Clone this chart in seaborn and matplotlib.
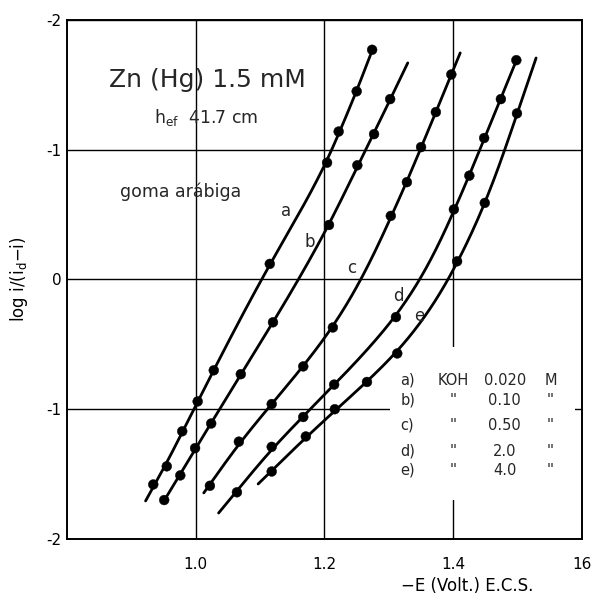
import numpy as np
import pandas as pd
import matplotlib
matplotlib.use("Agg")
import matplotlib.pyplot as plt
import seaborn as sns
from matplotlib.patches import Rectangle

# Measured points: log i/(id - i) against -E (V vs. SCE), one series per KOH concentration
curve_names = ["a", "b", "c", "d", "e"]

a_x = [0.934, 0.955, 0.979, 1.003, 1.028, 1.115, 1.204, 1.222, 1.250, 1.274]
a_y = [-1.58, -1.44, -1.17, -0.94, -0.70, 0.12, 0.90, 1.14, 1.45, 1.77]

b_x = [0.951, 0.976, 0.999, 1.024, 1.070, 1.120, 1.207, 1.251, 1.277, 1.302]
b_y = [-1.70, -1.51, -1.30, -1.11, -0.73, -0.33, 0.42, 0.88, 1.12, 1.39]

c_x = [1.022, 1.067, 1.118, 1.167, 1.213, 1.303, 1.328, 1.350, 1.373, 1.397]
c_y = [-1.59, -1.25, -0.96, -0.67, -0.37, 0.49, 0.75, 1.02, 1.29, 1.58]

d_x = [1.064, 1.118, 1.167, 1.215, 1.311, 1.401, 1.425, 1.448, 1.474, 1.498]
d_y = [-1.64, -1.29, -1.06, -0.81, -0.29, 0.54, 0.80, 1.09, 1.39, 1.69]

e_x = [1.118, 1.171, 1.216, 1.266, 1.313, 1.406, 1.449, 1.499]
e_y = [-1.48, -1.21, -1.00, -0.79, -0.57, 0.14, 0.59, 1.28]

# Vertical extent of each hand-drawn curve (log scale units)
line_bottom = [-1.707, -1.70, -1.645, -1.800, -1.576]
line_top = [1.77, 1.669, 1.746, 1.692, 1.707]

# Where the curve letters sit
label_x = [1.140, 1.1775, 1.2427, 1.3142, 1.3468]
label_y = [0.528, 0.289, 0.089, -0.127, -0.281]

x_ticks = [1.0, 1.2, 1.4, 1.6]
x_tick_labels = ["1.0", "1.2", "1.4", "16"]
y_ticks = [2, 1, 0, -1, -2]
y_tick_labels = ["-2", "-1", "0", "-1", "-2"]

# Key: KOH concentration for each curve
key_letters = ["a)", "b)", "c)", "d)", "e)"]
key_species = ["KOH", "''", "''", "''", "''"]
key_conc = ["0.020", "0.10", "0.50", "2.0", "4.0"]
key_unit = ["M", "''", "''", "''", "''"]

xs = [a_x, b_x, c_x, d_x, e_x]
ys = [a_y, b_y, c_y, d_y, e_y]

points = pd.concat(
    [pd.DataFrame({"E": x, "logi": y, "curve": n}) for n, x, y in zip(curve_names, xs, ys)],
    ignore_index=True,
)


def smooth_curve(t, v, lo, hi, length=0.22, m=240):
    """Penalised (Whittaker) smoother of v against t on a grid from lo to hi."""
    t = np.asarray(t, float)
    v = np.asarray(v, float)
    g = np.linspace(lo, hi, m)
    h = g[1] - g[0]
    W = np.zeros((len(t), m))
    for i, ti in enumerate(t):
        j = int(np.clip((ti - lo) // h, 0, m - 2))
        w = float(np.clip((ti - g[j]) / h, 0.0, 1.0))
        W[i, j] = 1 - w
        W[i, j + 1] = w
    D = np.diff(np.eye(m), 2, axis=0)
    rho = len(t) / (t.max() - t.min())
    lam = length ** 4 * rho / h ** 3
    f = np.linalg.solve(W.T @ W + lam * D.T @ D, W.T @ v)
    return g, f


# Smooth curve of potential against log ratio through each series
fits = []
for n, x, y, lo, hi in zip(curve_names, xs, ys, line_bottom, line_top):
    yy, ee = smooth_curve(y, x, lo, hi)
    fits.append(pd.DataFrame({"E": ee, "logi": yy, "curve": n}))
fits = pd.concat(fits, ignore_index=True)

sns.set_theme(style="white")
plt.rcParams["font.family"] = ["DejaVu Sans"]
plt.rcParams["mathtext.default"] = "regular"

fig = plt.figure(figsize=(5.96, 6.01), dpi=100)
ax = fig.add_axes([0.1124, 0.1032, 0.8641, 0.8636])

black = {n: "black" for n in curve_names}
sns.lineplot(data=fits, x="E", y="logi", hue="curve", palette=black, estimator=None,
             sort=False, linewidth=2.0, legend=False, ax=ax, zorder=3)
sns.scatterplot(data=points, x="E", y="logi", hue="curve", palette=black, s=50,
                edgecolor="black", linewidth=0.3, legend=False, ax=ax, zorder=4)

ax.set_xlim(0.8, 1.6)
ax.set_ylim(-2, 2)
ax.set_xticks(x_ticks)
ax.set_xticklabels(x_tick_labels, fontsize=11)
ax.set_yticks(y_ticks)
ax.set_yticklabels(y_tick_labels, fontsize=11)
ax.tick_params(axis="both", length=0, colors="black")
ax.tick_params(axis="x", pad=13)
ax.tick_params(axis="y", pad=4)

ax.grid(True, color="black", linewidth=1.0)
ax.set_axisbelow(True)
for sp in ax.spines.values():
    sp.set_visible(True)
    sp.set_color("black")
    sp.set_linewidth(1.4)

# Blank panel behind the concentration key
ax.add_patch(Rectangle((1.302, -1.70), 0.287, 1.18, facecolor="white",
                       edgecolor="none", zorder=1.5))

ax.set_xlabel("−E (Volt.) E.C.S.", fontsize=12, color="black")
ax.xaxis.set_label_coords(0.777, -0.074)
ax.set_ylabel("log i/(i$_d$−i)", fontsize=12, color="black")
ax.yaxis.set_label_coords(-0.072, 0.5)

ax.text(1.0175, 1.538, "Zn (Hg) 1.5 mM", fontsize=18, ha="center", va="center")
ax.text(1.016, 1.245, "h$_{ef}$  41.7 cm", fontsize=12.5, ha="center", va="center")
ax.text(0.977, 0.674, "goma arábiga", fontsize=12.5, ha="center", va="center")

for n, lx, ly in zip(curve_names, label_x, label_y):
    ax.text(lx, ly, n, fontsize=12, ha="center", va="center", zorder=5)

key_y = [-0.775, -0.93, -1.125, -1.325, -1.47]
for yk, l1, l2, l3, l4 in zip(key_y, key_letters, key_species, key_conc, key_unit):
    ax.text(1.318, yk, l1, fontsize=10.5, ha="left", va="center", zorder=5)
    ax.text(1.400, yk, l2, fontsize=10.5, ha="center", va="center", zorder=5)
    ax.text(1.480, yk, l3, fontsize=10.5, ha="center", va="center", zorder=5)
    ax.text(1.552, yk, l4, fontsize=10.5, ha="center", va="center", zorder=5)

fig.savefig("out.png", dpi=100, facecolor="white")
